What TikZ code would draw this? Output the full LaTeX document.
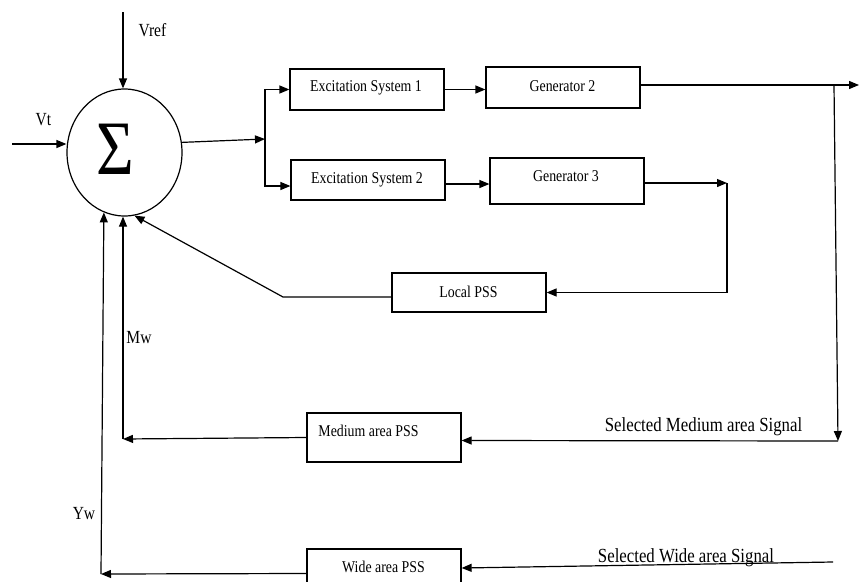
\documentclass[tikz,border=0pt]{standalone}
\usepackage{fontspec}
\setmainfont{Liberation Serif}
\newfontfamily\narrowfont{Liberation Serif}[FakeStretch=0.84]
\usetikzlibrary{arrows.meta,shapes.geometric}
\begin{document}
\begin{tikzpicture}[x=1pt,y=-1pt,
  line width=1.2pt,
  arr/.style={-{Triangle[length=10pt,width=8pt]}},
  box/.style={draw, rectangle, minimum width=154pt, inner sep=0pt},
  boxtext/.style={anchor=base, inner sep=0pt, font=\narrowfont\fontsize{16.5}{18}\selectfont},
  sigtext/.style={anchor=base, inner sep=0pt, font=\narrowfont\fontsize{20}{22}\selectfont},
  vartext/.style={anchor=base, inner sep=0pt, font=\narrowfont\fontsize{18.5}{20}\selectfont}]
\clip (0,0) rectangle (859,581);
\useasboundingbox (0,0) rectangle (859,581);

% summing junction
\node[draw, ellipse, minimum width=115pt, minimum height=127pt, inner sep=0pt] (sum) at (124.5,152.5) {};
\node[anchor=base, inner sep=0pt, font=\narrowfont\fontsize{77}{77}\selectfont] (sigma) at (115,174) {Σ};

% blocks
\node[box, minimum height=41pt] (exc1) at (367,89.5) {};
\node[boxtext] (exc1t) at (366,91.7) {Excitation System 1};
\node[box, minimum height=41pt] (gen2) at (563,87.5) {};
\node[boxtext] (gen2t) at (562.5,91) {Generator 2};
\node[box, minimum height=40pt] (exc2) at (368,180) {};
\node[boxtext] (exc2t) at (367,183) {Excitation System 2};
\node[box, minimum height=46pt] (gen3) at (567,181) {};
\node[boxtext] (gen3t) at (566,181) {Generator 3};
\node[box, minimum height=39pt] (local) at (469,292.5) {};
\node[boxtext] (localt) at (468.5,297) {Local PSS};
\node[box, minimum height=49pt] (med) at (384,437.5) {};
\node[boxtext] (medt) at (368.5,436.5) {Medium area PSS};
\node[box, minimum height=41pt] (wide) at (384,569.5) {};
\node[boxtext] (widet) at (383.5,572.5) {Wide area PSS};

% free ends and corners
\coordinate (vrefin) at (123,12);
\coordinate (vtin) at (12,144);
\coordinate (split) at (265,139);
\coordinate (rightend) at (859,85);
\coordinate (tap) at (834,85);
\coordinate (medsrc) at (838,441);
\coordinate (mwc) at (123,439);
\coordinate (g3c) at (727,183);
\coordinate (lk) at (283,297);
\coordinate (wsrc) at (833,562);
\coordinate (ywc) at (101,574);

% connectors
\draw[arr] (vrefin) -- (vrefin |- sum.north);
\draw[arr] (vtin) -- (vtin -| sum.west);
\draw[arr] (sum.10) -- (split);
\draw[arr] (split) |- (exc1.west);
\draw[arr] (split) |- ([yshift=-6pt]exc2.west);
\draw[arr] (exc1.east) -- (exc1.east -| gen2.west);
\draw[arr] ([yshift=-4pt]exc2.east) -- ([yshift=-4pt]exc2.east -| gen3.west);
\draw[arr] (rightend -| gen2.east) -- (rightend);
\draw[arr] (tap) -- (medsrc);
\draw[arr] (medsrc) -- ([yshift=-3pt]med.east);
\draw[arr] (med.west) -- (mwc);
\draw[arr] (mwc) -- (mwc |- sum.south);
\draw[arr] ([yshift=-2pt]gen3.east) -- (g3c);
\draw[arr] (g3c) |- (local.east);
\draw[arr] ([yshift=-4.5pt]local.west) -- (lk) -- (sum.279);
\draw[arr] (wsrc) -- ([yshift=1.5pt]wide.east);
\draw[arr] ([yshift=-4pt]wide.west) -- (ywc);
\draw[arr] (ywc) -- (sum.251);

% labels
\node[vartext] (vref) at (152.5,36) {Vref};
\node[vartext] (vt) at (43.5,125) {Vt};
\node[vartext] (mw) at (139,343) {Mw};
\node[vartext] (yw) at (84,519) {Yw};
\node[sigtext] (medsig) at (703.5,431) {Selected Medium area Signal};
\node[sigtext] (widesig) at (686,562) {Selected Wide area Signal};
\end{tikzpicture}
\end{document}
